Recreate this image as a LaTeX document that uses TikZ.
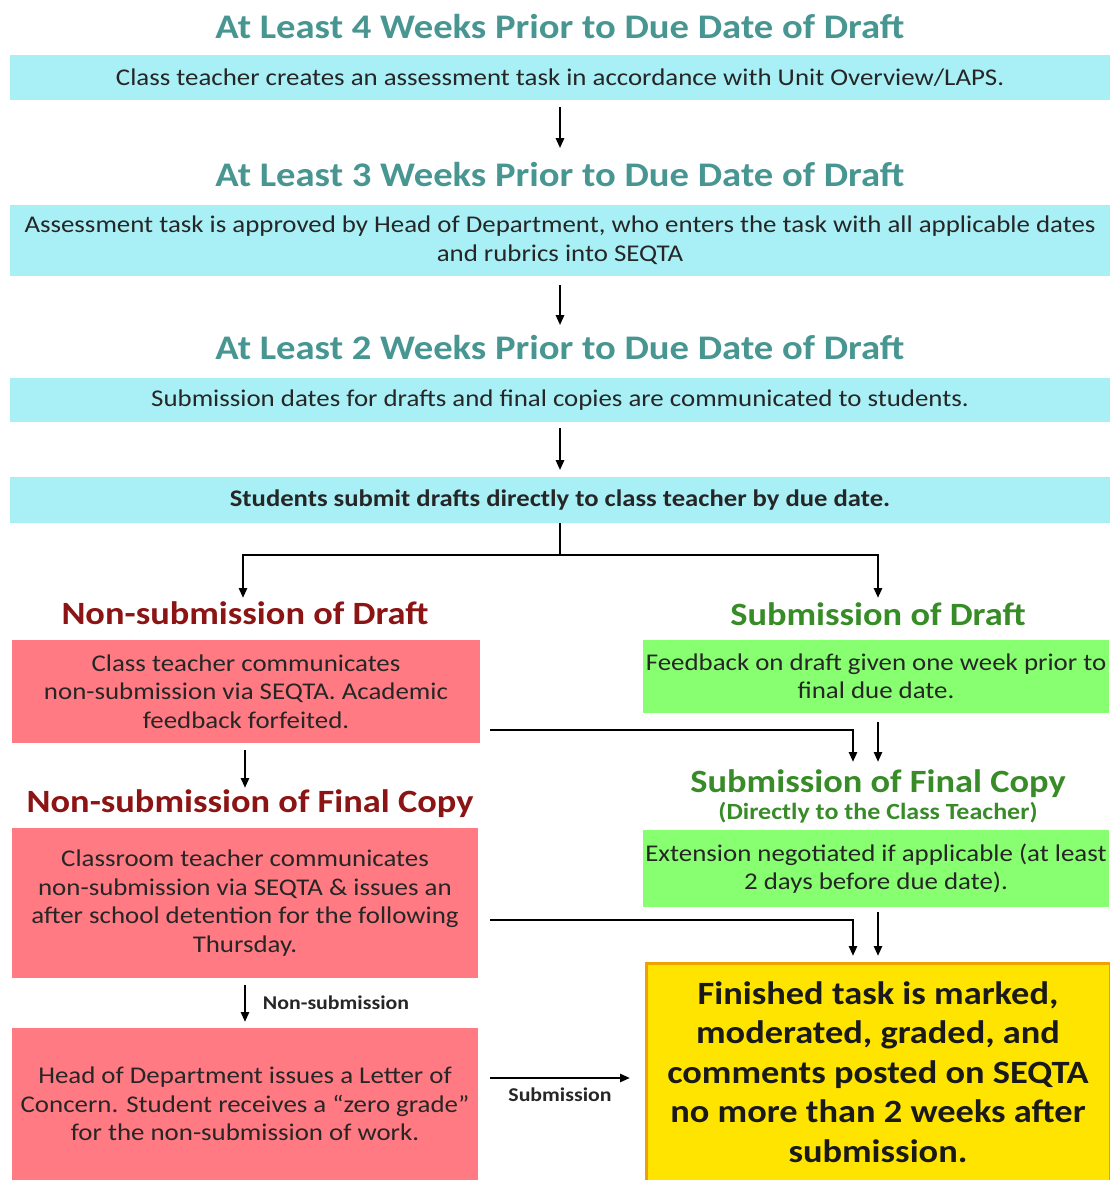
\documentclass[tikz,border=0pt]{standalone}
\usepackage{fontspec}
\setmainfont{Carlito}[FakeStretch=1.12]
\usetikzlibrary{arrows.meta}
\definecolor{tealh}{RGB}{72,150,146}
\definecolor{cyanf}{RGB}{168,240,246}
\definecolor{redf}{RGB}{255,122,130}
\definecolor{greenf}{RGB}{136,255,112}
\definecolor{yellowf}{RGB}{255,228,0}
\definecolor{orangeb}{RGB}{240,160,0}
\definecolor{redt}{RGB}{140,20,20}
\definecolor{greent}{RGB}{56,140,40}
\begin{document}
\begin{tikzpicture}[x=1pt,y=1pt,
  body/.style={inner sep=0pt, align=center, text=black!85, font=\fontsize{24}{28.5}\selectfont},
  cbox/.style={body, fill=cyanf, minimum width=1100pt},
  rbox/.style={body, fill=redf, minimum width=466pt},
  gbox/.style={body, fill=greenf, minimum width=466pt},
  tealhead/.style={inner sep=0pt, text=tealh, font=\fontsize{34.5}{38}\selectfont\bfseries},
  redhead/.style={inner sep=0pt, text=redt, font=\fontsize{32.5}{36}\selectfont\bfseries},
  greenhead/.style={inner sep=0pt, text=greent, font=\fontsize{32.5}{36}\selectfont\bfseries},
  lbl/.style={inner sep=0pt, text=black!85, font=\fontsize{19.5}{22}\selectfont\bfseries},
  ln/.style={line width=2.8pt, black},
  arr/.style={ln, -{Triangle[length=10pt,width=8pt]}}
]
\useasboundingbox[fill=white] (0,0) rectangle (1109,-1180);

% top section
\node[tealhead] (h1) at (560,-27) {At Least 4 Weeks Prior to Due Date of Draft};
\node[cbox, minimum height=45pt] (b1) at (560,-77.5) {Class teacher creates an assessment task in accordance with Unit Overview/LAPS.};
\node[tealhead] (h2) at (560,-175) {At Least 3 Weeks Prior to Due Date of Draft};
\node[cbox, minimum height=71pt] (b2) at (560,-240.5) {Assessment task is approved by Head of Department, who enters the task with all applicable dates\\and rubrics into SEQTA};
\node[tealhead] (h3) at (560,-348) {At Least 2 Weeks Prior to Due Date of Draft};
\node[cbox, minimum height=44pt] (b3) at (560,-400) {Submission dates for drafts and final copies are communicated to students.};
\node[cbox, minimum height=46pt, font=\fontsize{23.8}{28}\selectfont\bfseries] (b4) at (560,-500) {Students submit drafts directly to class teacher by due date.};

\draw[arr] ([yshift=-7pt]b1.south) -- ++(0,-41);
\draw[arr] ([yshift=-9pt]b2.south) -- ++(0,-40);
\draw[arr] ([yshift=-6pt]b3.south) -- ++(0,-42);

% fork
\coordinate (fk) at (560,-555);
\coordinate (nsdt) at (243,-598);
\coordinate (sdt) at (878,-598);
\draw[ln] (b4.south) -- (fk);
\draw[arr] (fk) -| (nsdt);
\draw[arr] (fk) -| (sdt);

% left column
\node[redhead] (nsd) at (245,-613) {Non-submission of Draft};
\node[rbox, minimum width=468pt, minimum height=103pt] (r1) at (246,-691.5) {Class teacher communicates\\non-submission via SEQTA. Academic\\feedback forfeited.};
\node[redhead] (nsf) at (250,-804) {Non-submission of Final Copy};
\node[rbox, minimum height=150pt] (r2) at (245,-903) {Classroom teacher communicates\\non-submission via SEQTA \& issues an\\after school detention for the following\\Thursday.};
\node[rbox, minimum height=152pt] (r3) at (245,-1104) {Head of Department issues a Letter of\\Concern. Student receives a “zero grade”\\for the non-submission of work.};

\coordinate (a1s) at (245,-750);
\coordinate (a1e) at (245,-788);
\coordinate (a2s) at (245,-985);
\coordinate (a2e) at (245,-1022);
\draw[arr] (a1s) -- (a1e);
\draw[arr] (a2s) -- (a2e);
\node[lbl] (ns) at (336,-1003) {Non-submission};

% right column
\node[greenhead] (sd) at (878,-614) {Submission of Draft};
\node[gbox, minimum height=73pt] (g1) at (876,-676.5) {Feedback on draft given one week prior to\\final due date.};
\node[greenhead] (sf) at (878,-784) {Submission of Final Copy};
\node[inner sep=0pt, text=greent, font=\fontsize{23.2}{26}\selectfont\bfseries] (sfs) at (878,-813) {(Directly to the Class Teacher)};
\node[gbox, minimum height=77pt] (g2) at (876,-868.5) {Extension negotiated if applicable (at least\\2 days before due date).};
\node[inner sep=0pt, fill=yellowf, draw=orangeb, line width=3pt, minimum width=464pt, minimum height=218pt, align=center, text=black!90, font=\fontsize{32.5}{39.5}\selectfont\bfseries] (y) at (878,-1072) {Finished task is marked,\\moderated, graded, and\\comments posted on SEQTA\\no more than 2 weeks after\\submission.};

% side connectors
\coordinate (r1o) at (490,-730);
\coordinate (sf1) at (853,-762);
\coordinate (sf2) at (878,-762);
\coordinate (sf2s) at (878,-722);
\draw[arr] (r1o) -| (sf1);
\draw[arr] (sf2s) -- (sf2);

\coordinate (r2o) at (490,-920);
\coordinate (y1) at (853,-956);
\coordinate (y2) at (878,-956);
\coordinate (y2s) at (878,-912);
\draw[arr] (r2o) -| (y1);
\draw[arr] (y2s) -- (y2);

\coordinate (r3o) at (490,-1078);
\coordinate (y3) at (630,-1078);
\draw[arr] (r3o) -- (y3);
\node[lbl] (sb) at (560,-1095) {Submission};
\end{tikzpicture}
\end{document}
